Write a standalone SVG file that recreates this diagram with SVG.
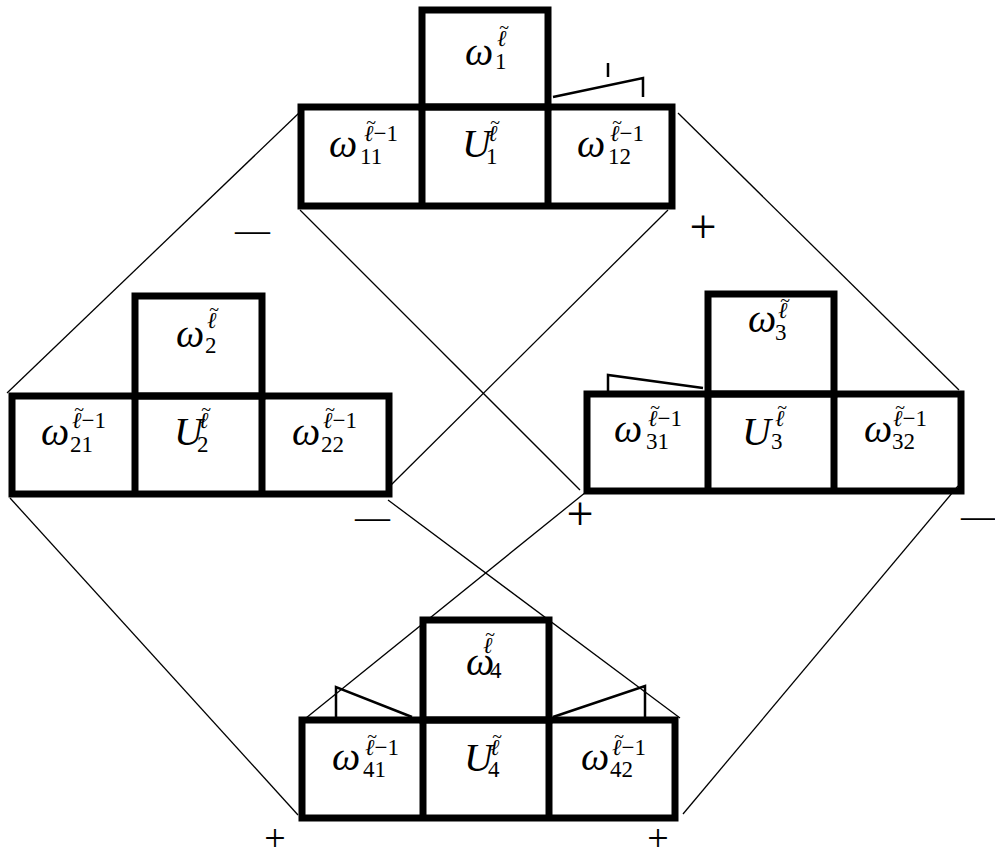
<svg xmlns="http://www.w3.org/2000/svg" width="995" height="861" viewBox="0 0 995 861">
<style>
.box{fill:none;stroke:#000;stroke-width:7;stroke-linejoin:miter;stroke-linecap:square}
.div{stroke:#000;stroke-width:7}
.flag{fill:none;stroke:#000;stroke-width:2.5;stroke-linejoin:miter}
.con{stroke:#000;stroke-width:1.3;fill:none}
.m{font-family:"Liberation Serif","Times New Roman",serif;font-style:italic;font-size:40px;fill:#000}
.s{font-size:23px;font-style:normal}
.i{font-style:italic}
.t{font-size:18px;font-style:normal;text-anchor:middle}
.sign{font-family:"Liberation Serif","Times New Roman",serif;fill:#000}
</style>
<rect width="995" height="861" fill="#fff"/>
<g id="connectors">
<line class="con" x1="299" y1="113" x2="7" y2="393"/>
<line class="con" x1="300" y1="210" x2="580" y2="490"/>
<line class="con" x1="668" y1="210" x2="389" y2="487"/>
<line class="con" x1="678" y1="113" x2="959" y2="390"/>
<line class="con" x1="10" y1="498" x2="298" y2="815"/>
<line class="con" x1="388" y1="500" x2="680" y2="718"/>
<line class="con" x1="586" y1="492" x2="306" y2="718"/>
<line class="con" x1="958" y1="486" x2="683" y2="814"/>
</g>
<g id="signs">
<text class="sign" x="235" y="242" font-size="35">—</text>
<text class="sign" x="355" y="529" font-size="35">—</text>
<text class="sign" x="961" y="527" font-size="34">—</text>
<text class="sign" x="703" y="243" font-size="48" text-anchor="middle">+</text>
<text class="sign" x="580" y="530" font-size="48" text-anchor="middle">+</text>
<text class="sign" x="275" y="851" font-size="38" text-anchor="middle">+</text>
<text class="sign" x="658" y="851" font-size="38" text-anchor="middle">+</text>
</g>
<g id="node1">
<rect class="box" x="422" y="10" width="126" height="97"/>
<rect class="box" x="301" y="107" width="371" height="99"/>
<line class="div" x1="422" y1="107" x2="422" y2="206"/>
<line class="div" x1="548" y1="107" x2="548" y2="206"/>
<polyline class="flag" points="553,97 643,78 643,97"/>
<line class="flag" x1="608" y1="63" x2="608" y2="77"/>
<text class="m" x="465" y="65">ω<tspan class="s" x="495" y="69">1</tspan><tspan class="s i" x="497" y="46">ℓ</tspan><tspan class="t" x="504" y="34">~</tspan></text>
<text class="m" x="329" y="157">ω<tspan class="s" x="360" y="164">11</tspan><tspan class="s i" x="364" y="141">ℓ</tspan><tspan class="s">−1</tspan><tspan class="t" x="371" y="129">~</tspan></text>
<text class="m" x="462" y="157">U<tspan class="s" x="486" y="164">1</tspan><tspan class="s i" x="488" y="141">ℓ</tspan><tspan class="t" x="495" y="129">~</tspan></text>
<text class="m" x="577" y="157">ω<tspan class="s" x="608" y="164">12</tspan><tspan class="s i" x="610" y="141">ℓ</tspan><tspan class="s">−1</tspan><tspan class="t" x="617" y="129">~</tspan></text>
</g>
<g id="node2">
<rect class="box" x="135" y="296" width="127" height="100"/>
<rect class="box" x="12" y="396" width="377" height="98"/>
<line class="div" x1="135" y1="396" x2="135" y2="494"/>
<line class="div" x1="262" y1="396" x2="262" y2="494"/>
<text class="m" x="176" y="347">ω<tspan class="s" x="205" y="353">2</tspan><tspan class="s i" x="207" y="328">ℓ</tspan><tspan class="t" x="214" y="316">~</tspan></text>
<text class="m" x="41" y="445">ω<tspan class="s" x="70" y="452">21</tspan><tspan class="s i" x="72" y="428">ℓ</tspan><tspan class="s">−1</tspan><tspan class="t" x="79" y="416">~</tspan></text>
<text class="m" x="174" y="445">U<tspan class="s" x="197" y="452">2</tspan><tspan class="s i" x="199" y="428">ℓ</tspan><tspan class="t" x="206" y="416">~</tspan></text>
<text class="m" x="292" y="445">ω<tspan class="s" x="321" y="452">22</tspan><tspan class="s i" x="323" y="428">ℓ</tspan><tspan class="s">−1</tspan><tspan class="t" x="330" y="416">~</tspan></text>
</g>
<g id="node3">
<rect class="box" x="708" y="294" width="126" height="100"/>
<rect class="box" x="587" y="394" width="374" height="97"/>
<line class="div" x1="708" y1="394" x2="708" y2="491"/>
<line class="div" x1="834" y1="394" x2="834" y2="491"/>
<polyline class="flag" points="608,392 608,375 703,388"/>
<text class="m" x="748" y="332" font-size="32">ω<tspan class="s" x="775" y="340" font-size="20">3</tspan><tspan class="s i" x="778" y="318" font-size="20">ℓ</tspan><tspan class="t" x="785" y="307" font-size="16">~</tspan></text>
<text class="m" x="614" y="442">ω<tspan class="s" x="646" y="449">31</tspan><tspan class="s i" x="648" y="426">ℓ</tspan><tspan class="s">−1</tspan><tspan class="t" x="655" y="414">~</tspan></text>
<text class="m" x="742" y="445">U<tspan class="s" x="771" y="449">3</tspan><tspan class="s i" x="775" y="426">ℓ</tspan><tspan class="t" x="782" y="414">~</tspan></text>
<text class="m" x="864" y="442">ω<tspan class="s" x="892" y="449">32</tspan><tspan class="s i" x="893" y="426">ℓ</tspan><tspan class="s">−1</tspan><tspan class="t" x="900" y="414">~</tspan></text>
</g>
<g id="node4">
<rect class="box" x="423" y="620" width="126" height="100"/>
<rect class="box" x="302" y="720" width="373" height="98"/>
<line class="div" x1="423" y1="720" x2="423" y2="818"/>
<line class="div" x1="549" y1="720" x2="549" y2="818"/>
<polyline class="flag" points="336,717 336,687 412,717"/>
<polyline class="flag" points="553,717 645,686 645,717"/>
<text class="m" x="466" y="675">ω<tspan class="s" x="490" y="678">4</tspan><tspan class="s i" x="483" y="653">ℓ</tspan><tspan class="t" x="490" y="641">~</tspan></text>
<text class="m" x="332" y="770">ω<tspan class="s" x="363" y="777">41</tspan><tspan class="s i" x="365" y="755">ℓ</tspan><tspan class="s">−1</tspan><tspan class="t" x="372" y="743">~</tspan></text>
<text class="m" x="464" y="771">U<tspan class="s" x="488" y="777">4</tspan><tspan class="s i" x="490" y="755">ℓ</tspan><tspan class="t" x="497" y="743">~</tspan></text>
<text class="m" x="581" y="770">ω<tspan class="s" x="610" y="777">42</tspan><tspan class="s i" x="612" y="755">ℓ</tspan><tspan class="s">−1</tspan><tspan class="t" x="619" y="743">~</tspan></text>
</g>
</svg>
